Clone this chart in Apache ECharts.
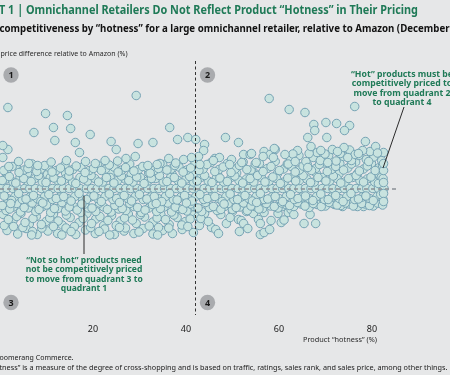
<!DOCTYPE html>
<html>
<head>
<meta charset="utf-8">
<script src="https://cdn.jsdelivr.net/npm/echarts@6/dist/echarts.min.js"></script>
<style>
html, body { margin: 0; padding: 0; background: #e6e7e8; }
#chart { width: 450px; height: 375px; }
</style>
</head>
<body>
<div id="chart"></div>
<script>
// x = product "hotness" (%), y = price difference relative to Amazon (%)
var xTicks = [20, 40, 60, 80];
var hotnessSplit = 41.9;

// products priced the same as Amazon (sit on the 0 line)
var onLine = [0.4, 1.5, 2.8, 3.9, 5.3, 6.4, 7.6, 8.9, 10.0, 11.3, 12.5, 13.6, 14.9, 16.1, 17.2, 18.6, 19.7, 20.9, 22.2, 23.4,
	24.5, 25.8, 27.0, 28.1, 29.5, 30.6, 31.8, 33.1, 34.2, 35.4, 36.7, 37.9, 39.0, 40.3, 41.5, 42.6, 43.9, 45.1, 46.2, 47.6,
	48.7, 49.9, 51.2, 52.3, 53.5, 54.8, 56.0, 57.1, 58.5, 59.6, 60.8, 62.1, 63.2, 64.4, 65.7, 66.9, 68.0, 69.3, 70.5, 71.6,
	73.0, 74.1, 75.3, 76.6, 77.8, 78.9, 80.2, 81.4, 82.6];

// scattered products well above the band
var upperOut = [[1.7, 16.2], [9.8, 15.0], [14.5, 14.6], [29.3, 18.6], [7.3, 11.2], [11.5, 12.2], [15.2, 12.0], [19.4, 10.8],
	[11.8, 9.6], [16.2, 9.2], [17.1, 7.2], [23.9, 9.4], [25.0, 7.8], [29.7, 9.0], [32.9, 9.2], [36.5, 12.2], [38.2, 9.8],
	[40.4, 10.2], [42.1, 9.8], [44.0, 8.8], [43.8, 7.6], [48.5, 10.2], [1.7, 7.8], [0.6, 8.6], [0.6, 6.2], [6.2, 5.0],
	[14.3, 5.6], [18.4, 5.4], [22.6, 5.6], [27.1, 6.0], [29.1, 6.4], [36.3, 6.0], [39.5, 5.8], [42.7, 6.4], [46.2, 6.0],
	[47.2, 6.2], [34.4, 5.0], [1.9, 4.4], [8.1, 4.6], [57.9, 18.0], [62.2, 15.8], [65.6, 15.2], [76.3, 16.4], [67.5, 12.8],
	[67.7, 11.6], [70.1, 13.2], [72.4, 13.0], [75.2, 12.6], [74.1, 11.6], [66.2, 10.2], [70.3, 10.2], [66.9, 8.4], [69.0, 7.6],
	[78.6, 9.4], [72.6, 7.4], [77.1, 7.0], [51.3, 9.2], [52.4, 6.8], [53.8, 6.8], [56.8, 7.4], [58.1, 6.8], [59.2, 7.8],
	[61.3, 6.8], [49.8, 5.8], [41.2, 6.2], [52.0, 5.2], [55.1, 5.2], [49.4, 4.8], [45.9, 5.6], [43.0, 4.8], [31.8, 4.6],
	[33.8, 4.8], [58.8, 6.2], [56.6, 6.4], [54.1, 7.0], [59.0, 8.0], [74.8, 6.2], [79.3, 5.4], [82.5, 5.0], [63.5, 5.4],
	[70.5, 5.2], [66.2, 4.2], [4.0, 5.4], [11.0, 5.3], [20.5, 5.0], [25.3, 5.5], [37.8, 5.1]];

// dense band, upper rows
var bandHigh = [[0.8, 3.6], [2.6, 4.4], [4.1, 3.2], [6.0, 4.0], [7.9, 3.4], [9.6, 4.6], [11.2, 3.3], [13.0, 4.1], [14.9, 3.5],
	[16.4, 4.5], [18.3, 3.2], [20.1, 4.0], [21.8, 3.6], [23.5, 4.7], [25.4, 3.3], [27.0, 4.2], [28.8, 3.5], [30.7, 4.4],
	[32.3, 3.1], [34.1, 4.0], [35.9, 3.7], [37.6, 4.6], [39.4, 3.3], [41.0, 4.1], [42.8, 3.6], [44.5, 4.8], [46.2, 3.4],
	[48.0, 4.3], [49.7, 3.2], [51.5, 4.6], [53.1, 3.8], [54.9, 4.9], [56.6, 3.4], [58.3, 4.4], [60.1, 3.6], [61.8, 4.9],
	[63.5, 3.3], [65.2, 4.5], [67.0, 3.6], [68.7, 4.8], [70.4, 3.4], [72.2, 4.4], [73.9, 3.7], [75.6, 4.9], [77.3, 3.5],
	[79.0, 4.5], [80.7, 3.6], [82.3, 4.6]];
var bandHigh2 = [[1.7, 4.0], [3.5, 4.6], [5.2, 3.7], [6.9, 4.9], [8.8, 3.9], [10.4, 4.3], [12.1, 3.6], [14.0, 4.8], [15.7, 3.8],
	[17.4, 4.2], [19.2, 3.6], [21.0, 4.7], [22.7, 3.9], [24.5, 4.3], [26.2, 3.7], [27.9, 4.9], [29.8, 3.8], [31.5, 4.2],
	[33.2, 3.6], [35.0, 4.8], [36.8, 3.9], [38.5, 4.3], [40.2, 3.7], [41.9, 4.9], [43.7, 3.9], [45.4, 5.2], [47.1, 3.8],
	[48.9, 5.0], [50.6, 3.9], [52.3, 5.3], [54.0, 3.7], [55.8, 5.0], [57.5, 4.0], [59.2, 5.4], [61.0, 3.9], [62.7, 4.4],
	[64.4, 3.7], [66.1, 4.8], [67.9, 4.0], [69.6, 5.1], [71.3, 3.8], [73.1, 5.0], [74.8, 4.1], [76.5, 5.3], [78.2, 3.9],
	[79.9, 5.0], [81.6, 4.2]];
var bandMid = [[0.5, 1.6], [2.0, 2.4], [3.4, 1.1], [5.1, 2.0], [6.7, 1.4], [8.3, 2.6], [9.9, 1.2], [11.6, 2.1], [13.2, 1.5],
	[14.8, 2.5], [16.3, 1.0], [18.0, 1.9], [19.6, 2.6], [21.2, 1.3], [22.9, 2.2], [24.5, 1.1], [26.1, 2.5], [27.7, 1.6],
	[29.4, 2.3], [31.0, 1.0], [32.6, 2.0], [34.3, 2.6], [35.9, 1.4], [37.5, 2.2], [39.1, 1.1], [40.8, 2.4], [42.4, 1.5],
	[44.0, 2.6], [45.6, 1.2], [47.3, 2.1], [48.9, 1.4], [50.5, 2.5], [52.2, 1.1], [53.8, 2.0], [55.4, 2.6], [57.0, 1.3],
	[58.7, 2.3], [60.3, 1.0], [61.9, 2.1], [63.6, 1.5], [65.2, 2.6], [66.8, 1.2], [68.4, 2.2], [70.1, 1.5], [71.7, 2.5],
	[73.3, 1.1], [75.0, 2.0], [76.6, 2.6], [78.2, 1.3], [79.8, 2.3], [81.4, 1.0], [82.4, 2.0]];
var bandMid2 = [[1.3, 1.9], [2.8, 1.3], [4.3, 2.2], [5.9, 1.5], [7.5, 2.0], [9.1, 1.3], [10.8, 2.2], [12.4, 1.6], [14.0, 1.9],
	[15.6, 1.3], [17.2, 2.2], [18.8, 1.5], [20.4, 2.0], [22.1, 1.3], [23.7, 2.2], [25.3, 1.6], [26.9, 1.9], [28.6, 1.3],
	[30.2, 2.2], [31.8, 1.5], [33.5, 2.0], [35.1, 1.3], [36.7, 2.2], [38.3, 1.6], [40.0, 1.9], [41.6, 1.3], [43.2, 2.2],
	[44.8, 1.5], [46.5, 2.0], [48.1, 1.3], [49.7, 2.2], [51.4, 1.6], [53.0, 1.9], [54.6, 1.3], [56.2, 2.2], [57.9, 1.5],
	[59.5, 2.0], [61.1, 1.3], [62.8, 2.2], [64.4, 1.6], [66.0, 1.9], [67.6, 1.3], [69.3, 2.2], [70.9, 1.5], [72.5, 2.0],
	[74.2, 1.3], [75.8, 2.2], [77.4, 1.6], [79.0, 1.9], [80.6, 1.3], [82.0, 2.2]];
var coreFill = [[1.4, 2.9], [5.9, 3.0], [10.2, 2.8], [14.1, 3.1], [19.0, 2.9], [23.8, 3.0], [28.2, 2.8], [32.0, 3.1],
	[37.0, 2.9], [41.9, 3.0], [46.8, 2.8], [50.9, 3.1], [55.0, 2.9], [59.7, 3.0], [63.9, 2.8], [68.0, 3.1], [72.9, 2.9],
	[76.9, 3.0], [81.5, 2.8], [2.3, -3.0], [9.2, -2.9], [17.6, -3.1], [25.7, -2.8], [33.6, -3.0], [40.1, -2.9],
	[48.2, -3.1], [55.2, -2.8]];

// hot products at the right end, higher priced
var rightTop = [[62.5, 5.9], [64.3, 6.6], [65.8, 5.4], [67.4, 6.2], [68.9, 5.6], [70.7, 6.6], [72.3, 5.5], [73.9, 6.4],
	[75.6, 5.6], [77.2, 6.6], [78.8, 5.8], [80.4, 6.3], [82.1, 5.6], [82.5, 7.2], [64.0, 7.6], [68.2, 7.2], [71.5, 7.8],
	[75.2, 7.7], [79.6, 7.4], [80.8, 8.4], [82.5, 3.6], [82.5, 1.2], [82.5, -1.0], [82.5, -2.6], [63.0, 6.9], [66.5, 7.0],
	[69.9, 6.9], [73.2, 7.0], [76.4, 6.8], [78.0, 7.6], [81.2, 7.1], [62.0, 4.9], [74.0, 8.2]];

// dense band, lower rows
var bandLow1 = [[0.9, -1.5], [2.5, -2.4], [4.0, -1.0], [5.6, -2.1], [7.2, -1.4], [8.8, -2.6], [10.5, -1.2], [12.1, -2.0],
	[13.7, -1.6], [15.3, -2.5], [17.0, -1.0], [18.6, -2.2], [20.2, -1.5], [21.8, -2.6], [23.5, -1.1], [25.1, -2.0],
	[26.7, -1.4], [28.3, -2.5], [30.0, -1.2], [31.6, -2.1], [33.2, -1.6], [34.8, -2.6], [36.5, -1.0], [38.1, -2.3],
	[39.7, -1.4], [41.3, -2.5], [43.0, -1.2], [44.6, -2.0], [46.2, -1.6], [47.8, -2.6], [49.5, -1.1], [51.1, -2.2],
	[52.7, -1.4], [54.3, -2.5], [56.0, -1.0], [57.6, -2.1], [59.2, -1.6], [60.8, -2.6], [62.5, -1.2], [64.1, -2.0],
	[65.7, -1.5], [67.3, -2.4], [69.0, -1.1], [70.6, -2.2], [72.2, -1.4], [73.8, -2.6], [75.5, -1.0], [77.1, -2.1],
	[78.7, -1.5], [80.3, -2.4], [81.9, -1.2]];
var bandLow3 = [[1.6, -2.0], [3.2, -1.6], [4.8, -2.2], [6.4, -1.7], [8.0, -2.0], [9.6, -1.6], [11.3, -2.2], [12.9, -1.7],
	[14.5, -2.0], [16.1, -1.6], [17.8, -2.2], [19.4, -1.7], [21.0, -2.0], [22.6, -1.6], [24.3, -2.2], [25.9, -1.7],
	[27.5, -2.0], [29.1, -1.6], [30.8, -2.2], [32.4, -1.7], [34.0, -2.0], [35.6, -1.6], [37.3, -2.2], [38.9, -1.7],
	[40.5, -2.0], [42.1, -1.6], [43.8, -2.2], [45.4, -1.7], [47.0, -2.0], [48.6, -1.6], [50.3, -2.2], [51.9, -1.7],
	[53.5, -2.0], [55.1, -1.6], [56.8, -2.2], [58.4, -1.7], [60.0, -2.0], [61.6, -1.6], [63.3, -2.2], [64.9, -1.7],
	[66.5, -2.0], [68.1, -1.6], [69.8, -2.2], [71.4, -1.7], [73.0, -2.0], [74.6, -1.6], [76.3, -2.2], [77.9, -1.7],
	[79.5, -2.0], [81.1, -1.6], [82.4, -2.2]];
var bandLow2 = [[0.5, -3.4], [2.1, -4.1], [3.6, -3.0], [5.2, -3.8], [6.9, -2.9], [8.4, -4.2], [10.0, -3.3], [11.7, -4.0],
	[13.3, -2.8], [14.9, -3.7], [16.6, -4.3], [18.2, -3.1], [19.8, -3.9], [21.4, -2.9], [23.1, -4.2], [24.7, -3.4],
	[26.3, -4.0], [27.9, -3.0], [29.6, -3.8], [31.2, -4.3], [32.8, -3.2], [34.5, -4.0], [36.1, -2.9], [37.7, -3.7],
	[39.3, -4.2], [41.0, -3.1], [42.6, -3.9], [44.2, -2.8], [45.9, -3.6], [47.5, -4.2], [49.1, -3.0], [50.8, -3.8],
	[52.4, -2.9], [54.0, -3.5], [55.7, -4.1], [57.3, -3.0], [59.0, -3.6], [60.6, -2.9], [62.3, -3.4], [64.0, -2.8],
	[65.6, -3.5], [67.4, -3.0], [69.1, -3.6], [70.8, -2.8], [72.5, -3.3], [74.3, -2.9], [76.0, -3.5], [77.8, -3.0],
	[79.5, -3.4], [81.2, -2.9], [82.3, -3.3]];
var bandLow4 = [[1.3, -4.4], [2.9, -3.7], [4.4, -4.7], [6.1, -3.9], [7.7, -4.6], [9.2, -3.6], [10.9, -4.8], [12.5, -4.0],
	[14.1, -4.5], [15.8, -3.6], [17.4, -4.8], [19.0, -3.9], [20.6, -4.6], [22.3, -3.7], [23.9, -4.7], [25.5, -4.1],
	[27.1, -4.4], [28.8, -3.6], [30.4, -4.8], [32.0, -3.9], [33.7, -4.6], [35.3, -3.7], [36.9, -4.7], [38.5, -4.0],
	[40.2, -4.5], [41.8, -3.6], [43.4, -4.6], [45.0, -3.8], [46.7, -4.4], [48.3, -3.6], [50.0, -4.2], [51.6, -3.7],
	[53.2, -4.4], [54.8, -3.6], [56.5, -4.0], [58.2, -3.5], [59.8, -3.9], [61.5, -3.2], [63.2, -3.6], [64.8, -3.1],
	[66.5, -3.8], [68.2, -3.2], [70.0, -3.5], [71.6, -3.0], [73.3, -3.4], [75.1, -3.1], [76.9, -3.6], [78.6, -3.1],
	[80.3, -3.5], [81.9, -3.0]];

// not so hot products, lower priced
var lowLeft = [[0.7, -5.2], [2.8, -6.4], [4.5, -5.0], [6.3, -7.1], [7.8, -5.6], [9.9, -6.6], [11.5, -5.1], [13.4, -7.3],
	[15.1, -5.8], [17.0, -6.8], [18.7, -5.0], [20.6, -6.1], [22.3, -7.4], [24.0, -5.4], [25.9, -6.5], [27.6, -5.1],
	[29.3, -7.0], [31.1, -5.7], [32.9, -6.7], [34.6, -5.2], [36.4, -7.2], [38.1, -5.8], [39.9, -6.6], [41.5, -5.3],
	[1.5, -8.4], [3.8, -9.1], [5.6, -8.0], [8.0, -9.2], [10.3, -8.5], [12.4, -9.0], [14.2, -7.9], [16.3, -9.2],
	[18.4, -8.3], [20.5, -9.0], [22.5, -8.1], [24.6, -9.2], [26.7, -8.5], [28.8, -9.0], [30.8, -8.0], [32.9, -9.1],
	[35.0, -8.4], [37.1, -9.0], [39.2, -8.2], [41.6, -8.8], [0.9, -7.4], [4.9, -7.8], [9.0, -7.9], [19.5, -7.8],
	[27.0, -7.9], [34.1, -7.8]];
var lowLeft2 = [[1.8, -6.2], [3.6, -5.6], [5.4, -6.8], [7.1, -6.0], [8.9, -7.2], [10.7, -5.9], [12.5, -6.5], [14.3, -5.3],
	[16.0, -7.6], [17.9, -6.0], [19.7, -7.0], [21.5, -5.6], [23.2, -6.4], [25.0, -7.4], [26.8, -5.9], [28.5, -6.3],
	[30.2, -5.2], [32.1, -7.5], [33.8, -5.9], [35.6, -6.2], [37.4, -5.3], [39.1, -7.3], [40.9, -6.1], [2.9, -7.6],
	[7.0, -8.6], [11.5, -7.6], [15.3, -8.6], [21.3, -8.6], [25.7, -7.8], [29.9, -8.7], [36.3, -7.9], [40.4, -7.6],
	[42.6, -5.6], [42.9, -7.4], [13.3, -9.3], [23.6, -9.3], [33.9, -9.3], [6.8, -9.3]];
var lowRight = [[44.0, -5.0], [45.1, -3.8], [45.5, -7.8], [46.4, -8.2], [48.7, -7.0], [51.3, -6.2], [51.5, -8.6],
	[51.9, -6.4], [52.4, -7.0], [54.5, -5.0], [55.6, -6.2], [56.0, -7.0], [56.0, -9.2], [56.8, -8.8], [56.8, -4.8],
	[59.8, -5.0], [60.5, -6.8], [60.7, -3.6], [62.0, -4.8], [62.6, -4.2], [63.2, -5.2], [65.4, -7.0], [66.7, -5.2],
	[67.9, -7.0], [57.9, -2.8], [69.4, -3.0], [72.0, -3.2], [73.7, -3.6], [76.1, -3.4], [78.2, -3.6], [81.6, -2.8],
	[43.2, -6.0], [47.5, -5.2], [50.0, -4.6], [58.3, -6.4], [61.1, -6.3], [44.8, -6.6], [47.0, -9.0], [49.5, -5.8],
	[53.3, -8.0], [58.0, -8.2], [53.0, -4.6]];

var FONT = '"Noto Sans", "Open Sans", sans-serif';
var GREEN = '#1f7a57';

// squeeze text so it covers the same width as in the original artwork
var measureCtx = document.createElement('canvas').getContext('2d');
function fit(text, font, width) {
	measureCtx.font = font;
	return width / measureCtx.measureText(text).width;
}

function label(text, x, y, font, fill, width, align) {
	return {
		type : 'text',
		x : x,
		y : y,
		z : 20,
		scaleX : fit(text, font, width),
		style : {
			text : text,
			font : font,
			fill : fill,
			textAlign : align || 'left',
			textVerticalAlign : 'middle'
		}
	};
}

function badge(num, x, y) {
	return [{
		type : 'circle',
		z : 20,
		shape : { cx : x, cy : y, r : 7.7 },
		style : { fill : '#a9abae' }
	}, {
		type : 'text',
		x : x,
		y : y + 0.5,
		z : 21,
		style : {
			text : num,
			font : 'bold 9px ' + FONT,
			fill : '#1a1a1a',
			textAlign : 'center',
			textVerticalAlign : 'middle'
		}
	}];
}

function note(lines, x, y, fitLine, fitWidth) {
	var font = 'bold 9px ' + FONT;
	return {
		type : 'text',
		x : x,
		y : y,
		z : 20,
		scaleX : fit(fitLine, font, fitWidth),
		style : {
			text : lines.join('\n'),
			font : font,
			fill : GREEN,
			textAlign : 'center',
			textVerticalAlign : 'top',
			lineHeight : 9.2
		}
	};
}

var points = [];
for (var i = 0; i < onLine.length; i++) {
	points.push([onLine[i], 0]);
}
points = points.concat(lowLeft, lowLeft2, lowRight, bandLow4, bandLow2, bandLow3, bandLow1, coreFill,
	bandMid2, bandMid, bandHigh2, bandHigh, rightTop, upperOut);

var hotLines = ['\u201cHot\u201d products must be', 'competitively priced to', 'move from quadrant 2', 'to quadrant 4'];
var coldLines = ['\u201cNot so hot\u201d products need', 'not be competitively priced', 'to move from quadrant 3 to', 'quadrant 1'];

var graphic = [
	label('T 1 | Omnichannel Retailers Do Not Reflect Product \u201cHotness\u201d in Their Pricing', -1, 10.5,
		'bold 12.5px ' + FONT, GREEN, 419),
	label('competitiveness by \u201chotness\u201d for a large omnichannel retailer, relative to Amazon (December', -0.5, 29.5,
		'bold 10.5px ' + FONT, '#111111', 450),
	label('price difference relative to Amazon (%)', 0.5, 54, '7.5px ' + FONT, '#2a2a2a', 127),
	label('Product \u201chotness\u201d (%)', 303, 340, '7.5px ' + FONT, '#2a2a2a', 74),
	label('oomerang Commerce.', -0.5, 358, '7.5px ' + FONT, '#1a1a1a', 74),
	label('tness\u201d is a measure of the degree of cross-shopping and is based on traffic, ratings, sales rank, and sales price, among other things.',
		-0.5, 368, '7.5px ' + FONT, '#1a1a1a', 448),
	note(hotLines, 402, 70, 'to quadrant 4', 59),
	note(coldLines, 84, 256, 'quadrant 1', 46.5),
	{
		type : 'line',
		z : 20,
		shape : { x1 : 404, y1 : 107, x2 : 383, y2 : 168 },
		style : { stroke : '#2b2b2b', lineWidth : 1 }
	}, {
		type : 'line',
		z : 20,
		shape : { x1 : 84, y1 : 196, x2 : 84, y2 : 254 },
		style : { stroke : '#2b2b2b', lineWidth : 1 }
	}
].concat(badge('1', 11, 75), badge('2', 207.5, 75), badge('3', 11, 302.5), badge('4', 207.5, 302.5));

var chart = echarts.init(document.getElementById('chart'), null, { renderer : 'canvas' });
var option = {
	backgroundColor : '#e6e7e8',
	animation : false,
	grid : {
		left : -3,
		right : 3.7,
		top : 58.5,
		height : 260
	},
	xAxis : {
		type : 'value',
		min : 0,
		max : 96,
		interval : 20,
		axisLine : { show : false },
		axisTick : { show : false },
		splitLine : { show : false },
		axisLabel : {
			margin : 6,
			fontSize : 9,
			fontFamily : FONT,
			color : '#222222',
			showMinLabel : false,
			showMaxLabel : false,
			formatter : function(v) {
				return xTicks.indexOf(v) >= 0 ? String(v) : '';
			}
		}
	},
	yAxis : {
		type : 'value',
		min : -26,
		max : 26,
		show : false
	},
	series : [{
		type : 'scatter',
		data : points,
		symbolSize : 8.5,
		silent : true,
		itemStyle : {
			color : '#c8e3df',
			borderColor : '#76a3b4',
			borderWidth : 1,
			opacity : 1
		},
		markLine : {
			silent : true,
			symbol : ['none', 'none'],
			label : { show : false },
			data : [
				[
					{ coord : [0, 0], lineStyle : { color : '#8a9095', type : [4, 3], width : 1.5 } },
					{ coord : [85.7, 0], lineStyle : { color : '#8a9095', type : [4, 3], width : 1.5 } }
				], [
					{ coord : [hotnessSplit, 25.5], lineStyle : { color : '#333333', type : [3, 2.5], width : 1 } },
					{ coord : [hotnessSplit, -25.3], lineStyle : { color : '#333333', type : [3, 2.5], width : 1 } }
				]
			]
		}
	}],
	graphic : graphic
};
chart.setOption(option);
</script>
</body>
</html>
